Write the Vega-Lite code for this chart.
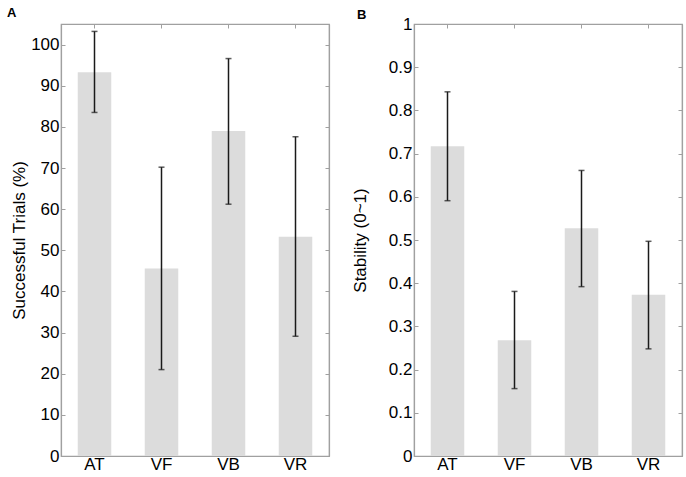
{
  "$schema": "https://vega.github.io/schema/vega-lite/v6.json",
  "padding": {"left": 6, "top": 5, "right": 4, "bottom": 0},
  "spacing": 85,
  "bounds": "flush",
  "config": {
    "view": {"stroke": "#a0a0a0", "strokeWidth": 1.2},
    "axis": {
      "labelFont": "Liberation Sans",
      "titleFont": "Liberation Sans",
      "labelFontSize": 17,
      "titleFontSize": 17,
      "titleFontWeight": "normal",
      "labelColor": "#000000",
      "titleColor": "#000000",
      "domainColor": "#a0a0a0",
      "domainWidth": 1.2,
      "tickColor": "#a0a0a0",
      "tickWidth": 1,
      "tickSize": -4,
      "grid": false
    },
    "title": {"font": "Liberation Sans", "fontSize": 13, "fontWeight": "bold", "color": "#000000"}
  },
  "hconcat": [
    {
      "width": 268,
      "height": 432,
      "title": {"text": "A", "anchor": "start", "frame": "group", "dx": -54, "offset": 4},
      "data": {"values": [
        {"cond": "AT", "mean": 93.3, "lo": 83.5, "hi": 103.2},
        {"cond": "VF", "mean": 45.6, "lo": 21.0, "hi": 70.2},
        {"cond": "VB", "mean": 79.0, "lo": 61.2, "hi": 96.6},
        {"cond": "VR", "mean": 53.3, "lo": 29.1, "hi": 77.6}
      ]},
      "layer": [
        {
          "mark": {"type": "bar", "color": "#dcdcdc"},
          "encoding": {
            "x": {"field": "cond", "type": "nominal", "sort": null, "scale": {"paddingInner": 0.5, "paddingOuter": 0.25},
                  "axis": {"orient": "bottom", "title": null, "labelAngle": 0, "labelPadding": 4}},
            "y": {"field": "mean", "type": "quantitative", "scale": {"domain": [0, 105], "nice": false},
                  "axis": {"orient": "left", "title": "Successful Trials (%)", "values": [0,10,20,30,40,50,60,70,80,90,100], "labelPadding": 6, "titleX": -42, "titleY": 216, "titleBaseline": "middle"}}
          }
        },
        {
          "mark": {"type": "rule", "color": "#1a1a1a", "strokeWidth": 1.5},
          "encoding": {
            "x": {"field": "cond", "type": "nominal", "sort": null, "scale": {"paddingInner": 0.5, "paddingOuter": 0.25},
                  "axis": {"orient": "top", "title": null, "labels": false}},
            "y": {"field": "lo", "type": "quantitative", "scale": {"domain": [0, 105], "nice": false},
                  "axis": {"orient": "right", "title": null, "labels": false, "values": [0,10,20,30,40,50,60,70,80,90,100]}},
            "y2": {"field": "hi"}
          }
        },
        {
          "mark": {"type": "tick", "color": "#1a1a1a", "size": 6, "thickness": 1.5},
          "encoding": {
            "x": {"field": "cond", "type": "nominal", "sort": null, "scale": {"paddingInner": 0.5, "paddingOuter": 0.25}, "axis": null},
            "y": {"field": "lo", "type": "quantitative", "scale": {"domain": [0, 105], "nice": false}, "axis": null}
          }
        },
        {
          "mark": {"type": "tick", "color": "#1a1a1a", "size": 6, "thickness": 1.5},
          "encoding": {
            "x": {"field": "cond", "type": "nominal", "sort": null, "scale": {"paddingInner": 0.5, "paddingOuter": 0.25}, "axis": null},
            "y": {"field": "hi", "type": "quantitative", "scale": {"domain": [0, 105], "nice": false}, "axis": null}
          }
        }
      ],
      "resolve": {"axis": {"x": "independent", "y": "independent"}}
    },
    {
      "width": 268,
      "height": 432,
      "title": {"text": "B", "anchor": "start", "frame": "group", "dx": -57, "dy": 11, "offset": 4},
      "data": {"values": [
        {"cond": "AT", "mean": 0.717, "lo": 0.591, "hi": 0.843},
        {"cond": "VF", "mean": 0.268, "lo": 0.156, "hi": 0.381},
        {"cond": "VB", "mean": 0.527, "lo": 0.392, "hi": 0.661},
        {"cond": "VR", "mean": 0.373, "lo": 0.248, "hi": 0.497}
      ]},
      "layer": [
        {
          "mark": {"type": "bar", "color": "#dcdcdc"},
          "encoding": {
            "x": {"field": "cond", "type": "nominal", "sort": null, "scale": {"paddingInner": 0.5, "paddingOuter": 0.25},
                  "axis": {"orient": "bottom", "title": null, "labelAngle": 0, "labelPadding": 4}},
            "y": {"field": "mean", "type": "quantitative", "scale": {"domain": [0, 1], "nice": false},
                  "axis": {"orient": "left", "title": "Stability (0~1)", "format": "~g", "values": [0,0.1,0.2,0.3,0.4,0.5,0.6,0.7,0.8,0.9,1], "labelPadding": 6, "titleX": -54, "titleY": 216, "titleBaseline": "middle"}}
          }
        },
        {
          "mark": {"type": "rule", "color": "#1a1a1a", "strokeWidth": 1.5},
          "encoding": {
            "x": {"field": "cond", "type": "nominal", "sort": null, "scale": {"paddingInner": 0.5, "paddingOuter": 0.25},
                  "axis": {"orient": "top", "title": null, "labels": false}},
            "y": {"field": "lo", "type": "quantitative", "scale": {"domain": [0, 1], "nice": false},
                  "axis": {"orient": "right", "title": null, "labels": false, "values": [0,0.1,0.2,0.3,0.4,0.5,0.6,0.7,0.8,0.9,1]}},
            "y2": {"field": "hi"}
          }
        },
        {
          "mark": {"type": "tick", "color": "#1a1a1a", "size": 6, "thickness": 1.5},
          "encoding": {
            "x": {"field": "cond", "type": "nominal", "sort": null, "scale": {"paddingInner": 0.5, "paddingOuter": 0.25}, "axis": null},
            "y": {"field": "lo", "type": "quantitative", "scale": {"domain": [0, 1], "nice": false}, "axis": null}
          }
        },
        {
          "mark": {"type": "tick", "color": "#1a1a1a", "size": 6, "thickness": 1.5},
          "encoding": {
            "x": {"field": "cond", "type": "nominal", "sort": null, "scale": {"paddingInner": 0.5, "paddingOuter": 0.25}, "axis": null},
            "y": {"field": "hi", "type": "quantitative", "scale": {"domain": [0, 1], "nice": false}, "axis": null}
          }
        }
      ],
      "resolve": {"axis": {"x": "independent", "y": "independent"}}
    }
  ]
}
